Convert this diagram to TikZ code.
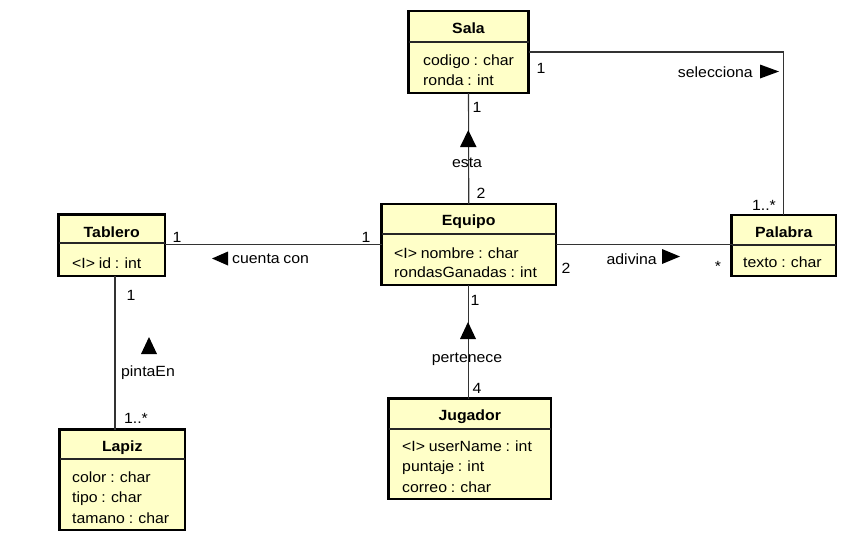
\documentclass[tikz,border=0pt]{standalone}
\usepackage{fontspec}
\setmainfont[FakeStretch=1.07,WordSpace=0.85]{Liberation Sans}
\definecolor{clsfill}{HTML}{FFFFC8}
\begin{document}
\begin{tikzpicture}[x=1pt,y=-1pt,
  cls/.style={draw=black, line width=2.8pt, fill=clsfill, inner sep=0pt, outer sep=0pt},
  sepline/.style={line width=1.1pt, draw=black!85},
  ttl/.style={font=\fontsize{14.8}{17}\selectfont\bfseries, anchor=base, inner sep=0pt},
  attr/.style={font=\fontsize{14.8}{17}\selectfont, anchor=base west, inner sep=0pt},
  lbl/.style={font=\fontsize{14.8}{17}\selectfont, anchor=base, inner sep=0pt},
  conn/.style={line width=1.1pt, draw=black!80},
  tri/.style={fill=black}]
\useasboundingbox[fill=white] (0,0) rectangle (850,542);

% classes
\node[cls, minimum width=120pt, minimum height=82pt] (sala) at (468.5,52) {};
\node[cls, minimum width=106.5pt, minimum height=61.5pt] (tablero) at (111.75,245.25) {};
\node[cls, minimum width=174.5pt, minimum height=81pt] (equipo) at (468.75,244.5) {};
\node[cls, minimum width=104.5pt, minimum height=61pt] (palabra) at (783.75,245.5) {};
\node[cls, minimum width=162.5pt, minimum height=100.5pt] (jugador) at (469.75,448.75) {};
\node[cls, minimum width=125.5pt, minimum height=100.5pt] (lapiz) at (122.25,479.75) {};

% separators
\draw[sepline] (sala.west |- 0,42) -- (sala.east |- 0,42);
\draw[sepline] (tablero.west |- 0,243) -- (tablero.east |- 0,243);
\draw[sepline] (equipo.west |- 0,234) -- (equipo.east |- 0,234);
\draw[sepline] (palabra.west |- 0,245) -- (palabra.east |- 0,245);
\draw[sepline] (jugador.west |- 0,429) -- (jugador.east |- 0,429);
\draw[sepline] (lapiz.west |- 0,459) -- (lapiz.east |- 0,459);

% texts
\node[ttl] (salaT) at (468.5,33) {Sala};
\node[attr] (salaA1) at (423,65) {codigo : char};
\node[attr] (salaA2) at (423,85) {ronda : int};

\node[ttl] (tableroT) at (111.75,237) {Tablero};
\node[attr] (tableroA1) at (72,268) {<I> id : int};

\node[ttl] (equipoT) at (468.75,225) {Equipo};
\node[attr] (equipoA1) at (394,258) {<I> nombre : char};
\node[attr] (equipoA2) at (394,277) {rondasGanadas : int};

\node[ttl] (palabraT) at (783.75,237) {Palabra};
\node[attr] (palabraA1) at (743,267) {texto : char};

\node[ttl] (jugadorT) at (469.75,420) {Jugador};
\node[attr] (jugadorA1) at (402,451) {<I> userName : int};
\node[attr] (jugadorA2) at (402,471.5) {puntaje : int};
\node[attr] (jugadorA3) at (402,492) {correo : char};

\node[ttl] (lapizT) at (122.25,451) {Lapiz};
\node[attr] (lapizA1) at (72,482) {color : char};
\node[attr] (lapizA2) at (72,502.5) {tipo : char};
\node[attr] (lapizA3) at (72,523) {tamano : char};

% connectors
\coordinate (tl) at (115,0);
\draw[conn] (sala.south) -- (equipo.north);
\draw[conn] (sala.east) -| (palabra.north);
\draw[conn] (equipo.west) -- (equipo.west -| tablero.east);
\draw[conn] (equipo.east) -- (equipo.east -| palabra.west);
\draw[conn] (equipo.south) -- (jugador.north -| equipo.south);
\draw[conn] (tablero.south -| tl) -- (lapiz.north -| tl);

% esta
\node[lbl] (m1) at (477,112) {1};
\fill[tri] (460,147) -- (476.5,147) -- (468.25,130) -- cycle;
\node[lbl] (esta) at (467,167) {esta};
\node[lbl] (m2) at (481,198) {2};

% selecciona
\node[lbl] (m3) at (541,73) {1};
\node[lbl, anchor=base east] (sel) at (753,77) {selecciona};
\fill[tri] (760,64.5) -- (760,78.5) -- (779,71.5) -- cycle;
\node[lbl] (m4) at (764,210) {1..*};

% cuenta con
\node[lbl] (m5) at (177,242) {1};
\node[lbl] (m6) at (366,242) {1};
\fill[tri] (228,251.5) -- (228,265.5) -- (212,258.5) -- cycle;
\node[lbl, anchor=base west] (cuenta) at (232,263) {cuenta con};

% adivina
\node[lbl] (m7) at (566,273) {2};
\node[lbl, anchor=base east] (adiv) at (657,264) {adivina};
\fill[tri] (662,249) -- (662,264) -- (680,256.5) -- cycle;
\node[lbl] (m8) at (718,271) {*};

% pertenece
\node[lbl] (m9) at (475,305) {1};
\fill[tri] (460,339) -- (476,339) -- (468,322) -- cycle;
\node[lbl] (pert) at (467,362) {pertenece};
\node[lbl] (m10) at (477,393) {4};

% pintaEn
\node[lbl] (m11) at (131,300) {1};
\fill[tri] (141,354) -- (157,354) -- (149,337) -- cycle;
\node[lbl] (pinta) at (148,376) {pintaEn};
\node[lbl] (m12) at (136,423) {1..*};
\end{tikzpicture}
\end{document}
